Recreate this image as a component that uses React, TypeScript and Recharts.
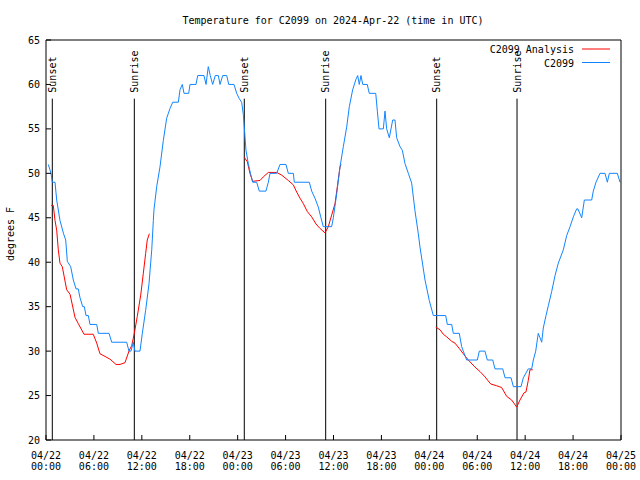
import { LineChart, Line, XAxis, YAxis, ReferenceLine } from 'recharts'

// observed station temperature (deg F), time in hours since 04/22 00:00 UTC
const stationHours = [
  0.29, 0.63, 0.79, 1.13, 1.34, 1.75, 2.2, 2.47, 2.67, 3.09, 3.42, 3.76, 4.04, 4.26, 4.6, 4.8,
  5.01, 5.3, 5.51, 6.35, 6.55, 7.89, 8.23, 10.1, 10.39, 10.64, 10.93, 11.14, 11.77, 12.06, 12.48,
  12.9, 13.24, 13.44, 13.52, 13.86, 14.27, 14.69, 15.11, 15.53, 15.87, 16.57, 16.78, 17.07, 17.28,
  17.87, 18.03, 18.78, 19.0, 19.78, 20.04, 20.32, 20.57, 20.87, 21.2, 21.58, 21.79, 22.13, 22.63,
  22.88, 23.54, 23.88, 24.2, 24.5, 24.71, 24.83, 25.04, 25.33, 25.6, 25.88, 26.38, 26.71, 27.54,
  27.84, 28.05, 28.89, 29.3, 30.05, 30.34, 30.97, 31.09, 32.97, 33.27, 33.68, 34.1, 34.4, 34.72,
  35.77, 35.98, 36.4, 36.81, 37.23, 37.65, 37.98, 38.4, 38.82, 39.03, 39.23, 39.44, 39.66, 40.23,
  40.48, 41.29, 41.49, 41.7, 42.24, 42.45, 42.66, 42.99, 43.41, 43.7, 43.91, 44.33, 44.62, 44.95,
  45.37, 45.79, 46.2, 46.62, 46.83, 47.46, 47.99, 48.5, 50.05, 50.25, 50.8, 51.0, 51.75, 52.05,
  52.25, 52.68, 54.01, 54.26, 54.97, 55.26, 55.94, 56.22, 57.19, 57.48, 58.23, 58.52, 59.48, 59.77,
  60.39, 60.82, 61.02, 61.32, 61.64, 61.86, 62.07, 62.27, 62.61, 62.9, 63.32, 63.74, 64.15, 64.78,
  65.2, 65.62, 66.03, 66.45, 66.6, 67.08, 67.41, 68.33, 68.53, 68.87, 69.37, 70.0, 70.29, 70.54,
  71.54, 71.88,
]
const stationTemps = [
  51, 50, 49, 49, 47, 44.7, 43.2, 42.5, 40.1, 39.5, 38, 37, 37, 36, 35, 35,
  34, 34, 33, 33, 32, 32, 31, 31, 30, 30, 31, 30, 30, 32, 34.6,
  37.6, 41.4, 44.7, 45.9, 48.5, 50.7, 53.7, 56.2, 57.3, 58, 58, 59.4, 60, 59,
  59, 60, 60, 61, 61, 60, 62, 61, 60, 61, 61, 60, 61, 61,
  60, 60, 59, 58.4, 58, 56.6, 55.2, 52.6, 51.1, 50, 49, 49, 48, 48,
  49, 50, 50, 51, 51, 50, 50, 49, 49, 48, 47.2, 46.2, 45.1, 44,
  44, 45, 47.7, 50.7, 53, 55.2, 57.5, 59.4, 60.6, 61, 60, 61, 60, 60,
  59, 59, 57, 55, 55, 57, 55, 54, 56, 56, 54, 53, 52.6, 51.1,
  50, 48.9, 45.8, 43.2, 41.7, 38, 35.7, 34, 34, 33, 33, 32, 32, 30.5,
  30, 29, 29, 30, 30, 29, 29, 28, 28, 27, 27, 26, 26, 27,
  28, 28, 29, 30, 32, 31.5, 31, 32.6, 34, 35.1, 36.7, 38.5, 39.9, 41.4,
  43, 44, 45.1, 46, 46, 45, 47, 47, 48, 49, 50, 50, 49, 50,
  50, 49,
]

// analysis temperature, only over the nights (null = gap)
const analysisHours = [
  0.63, 0.91, 1.13, 1.34, 1.54, 1.75, 2.04, 2.59, 3.01, 3.63, 4.04, 4.76, 5.92, 6.35, 6.76, 7.39,
  8.01, 8.77, 9.27, 9.89, 10.43, 10.73, 11.06, 11.43, 11.86, 12.18, 12.48, 12.68, 12.94,
  18,
  24.83, 25.21, 25.54, 25.88, 26.8, 27.21, 27.84, 28.89, 29.51, 30.34, 30.97, 31.39, 31.81, 32.22,
  32.72, 33.27, 33.81, 34.31, 34.94, 35.35, 35.77, 36.19, 36.48, 36.81, 36.94,
  42,
  48.8, 49.34, 49.75, 50.18, 50.8, 51.21, 51.75, 52.25, 52.88, 53.72, 54.35, 54.97, 55.69, 56.44,
  57.06, 57.69, 58.31, 58.94, 59.35, 59.85, 60.1, 60.39, 60.6, 60.94,
]
const analysisTemps = [
  46.4, 46.4, 44.7, 43.6, 41.4, 39.9, 39.5, 36.9, 36.4, 33.8, 33.1, 31.9, 31.9, 30.9, 29.7, 29.4,
  29.1, 28.5, 28.5, 28.7, 30.1, 30.6, 32, 33.9, 36.3, 38.7, 41, 42.5, 43.2,
  null,
  51.8, 51.3, 50, 49.1, 49.2, 49.6, 50.1, 50.1, 49.8, 49.2, 48.7, 47.9, 47.2, 46.6,
  45.7, 45.1, 44.3, 43.8, 43.3, 44, 45.3, 46.6, 48.5, 50.7, 51,
  null,
  32.7, 32.4, 31.9, 31.6, 31.1, 30.9, 30.3, 29.7, 29, 28.2, 27.7, 27.1, 26.3, 26.1,
  25.9, 24.9, 24.5, 23.7, 24.5, 25.3, 25.4, 26.7, 27.9, 27.9,
]

const sunHours = [0.79, 11.06, 24.83, 35.02, 48.92, 58.98]
const sunNames = ['Sunset', 'Sunrise', 'Sunset', 'Sunrise', 'Sunset', 'Sunrise']

const majorTicks = [0, 6, 12, 18, 24, 30, 36, 42, 48, 54, 60, 66, 72]
const minorTicks = [0, 2, 4, 6, 8, 10, 12, 14, 16, 18, 20, 22, 24, 26, 28, 30, 32, 34, 36, 38, 40, 42, 44, 46, 48, 50, 52, 54, 56, 58, 60, 62, 64, 66, 68, 70, 72]
const tickDates = ['04/22', '04/22', '04/22', '04/22', '04/23', '04/23', '04/23', '04/23', '04/24', '04/24', '04/24', '04/24', '04/25']
const tickTimes = ['00:00', '06:00', '12:00', '18:00', '00:00', '06:00', '12:00', '18:00', '00:00', '06:00', '12:00', '18:00', '00:00']
const yTicks = [20, 25, 30, 35, 40, 45, 50, 55, 60, 65]

const stationData = stationHours.map((t, i) => ({ t, v: stationTemps[i] }))
const analysisData = analysisHours.map((t, i) => ({ t, v: analysisTemps[i] }))

const FONT = 'DejaVu Sans Mono, monospace'
const RED = '#ff0000'
const BLUE = '#1085ff'
const THIN = 0.01

const XTick = (props: any) => {
  const { x, y, payload } = props
  const i = majorTicks.indexOf(payload.value)
  return (
    <text x={x} textAnchor="middle" fontFamily={FONT} fontSize={10} fill="#000">
      <tspan x={x} y={y + 18.5}>{tickDates[i]}</tspan>
      <tspan x={x} y={y + 30}>{tickTimes[i]}</tspan>
    </text>
  )
}

const sunLabel = (name: string) => (props: any) => {
  const vb = props.viewBox || {}
  const x = vb.x
  const y = vb.y - 6
  return (
    <text
      x={x}
      y={y}
      transform={`rotate(-90 ${x} ${y})`}
      textAnchor="start"
      dominantBaseline="central"
      fontFamily={FONT}
      fontSize={10}
      fill="#000"
    >
      {name}
    </text>
  )
}

export default function App() {
  return (
    <div style={{ position: 'absolute', left: 0, top: 0, width: 640, height: 480, background: '#fff' }}>
      <LineChart width={640} height={480} margin={{ top: 40 - 2 * THIN, right: 0, bottom: 0, left: 0 }}>
        <XAxis
          xAxisId="bm"
          dataKey="t"
          type="number"
          domain={[0, 72]}
          allowDataOverflow
          ticks={minorTicks}
          interval={0}
          height={THIN}
          tick={false}
          tickSize={-3}
          axisLine={false}
          tickLine={{ stroke: '#000' }}
        />
        <XAxis
          dataKey="t"
          type="number"
          domain={[0, 72]}
          allowDataOverflow
          ticks={majorTicks}
          interval={0}
          height={40 - THIN}
          tickSize={-5}
          tickMargin={5}
          tick={<XTick />}
          axisLine={{ stroke: '#000' }}
          tickLine={{ stroke: '#000' }}
        />
        <XAxis
          xAxisId="tm"
          orientation="top"
          dataKey="t"
          type="number"
          domain={[0, 72]}
          allowDataOverflow
          ticks={minorTicks}
          interval={0}
          height={THIN}
          tick={false}
          tickSize={-3}
          axisLine={false}
          tickLine={{ stroke: '#000' }}
        />
        <XAxis
          xAxisId="t"
          orientation="top"
          dataKey="t"
          type="number"
          domain={[0, 72]}
          allowDataOverflow
          ticks={majorTicks}
          interval={0}
          height={THIN}
          tick={false}
          tickSize={-5}
          axisLine={{ stroke: '#000' }}
          tickLine={{ stroke: '#000' }}
        />
        <YAxis
          type="number"
          domain={[20, 65]}
          allowDataOverflow
          ticks={yTicks}
          interval={0}
          width={46}
          tickSize={-5}
          tickMargin={11}
          tick={{ fill: '#000', fontSize: 10, fontFamily: FONT }}
          axisLine={{ stroke: '#000' }}
          tickLine={{ stroke: '#000' }}
        />
        <YAxis
          yAxisId="r"
          orientation="right"
          type="number"
          domain={[20, 65]}
          allowDataOverflow
          ticks={yTicks}
          interval={0}
          width={19}
          tickSize={-5}
          tick={false}
          axisLine={{ stroke: '#000' }}
          tickLine={{ stroke: '#000' }}
        />
        {sunHours.map((t, i) => (
          <ReferenceLine
            key={i}
            segment={[{ x: t, y: 20 }, { x: t, y: 58.4 }]}
            stroke="#000"
            strokeWidth={1}
            label={sunLabel(sunNames[i])}
          />
        ))}
        <Line
          data={analysisData}
          dataKey="v"
          type="linear"
          stroke={RED}
          strokeWidth={1}
          dot={false}
          isAnimationActive={false}
        />
        <Line
          data={stationData}
          dataKey="v"
          type="linear"
          stroke={BLUE}
          strokeWidth={1}
          dot={false}
          isAnimationActive={false}
        />
        <text x={333} y={24} textAnchor="middle" fontFamily={FONT} fontSize={10} fill="#000">
          Temperature for C2099 on 2024-Apr-22 (time in UTC)
        </text>
        <text
          x={10}
          y={234}
          transform="rotate(-90 10 234)"
          textAnchor="middle"
          dominantBaseline="central"
          fontFamily={FONT}
          fontSize={10}
          fill="#000"
        >
          degrees F
        </text>
        <text x={574} y={53} textAnchor="end" fontFamily={FONT} fontSize={10} fill="#000">C2099 Analysis</text>
        <line x1={582} x2={610} y1={49} y2={49} stroke={RED} />
        <text x={574} y={66.5} textAnchor="end" fontFamily={FONT} fontSize={10} fill="#000">C2099</text>
        <line x1={582} x2={610} y1={62.5} y2={62.5} stroke={BLUE} />
      </LineChart>
    </div>
  )
}
